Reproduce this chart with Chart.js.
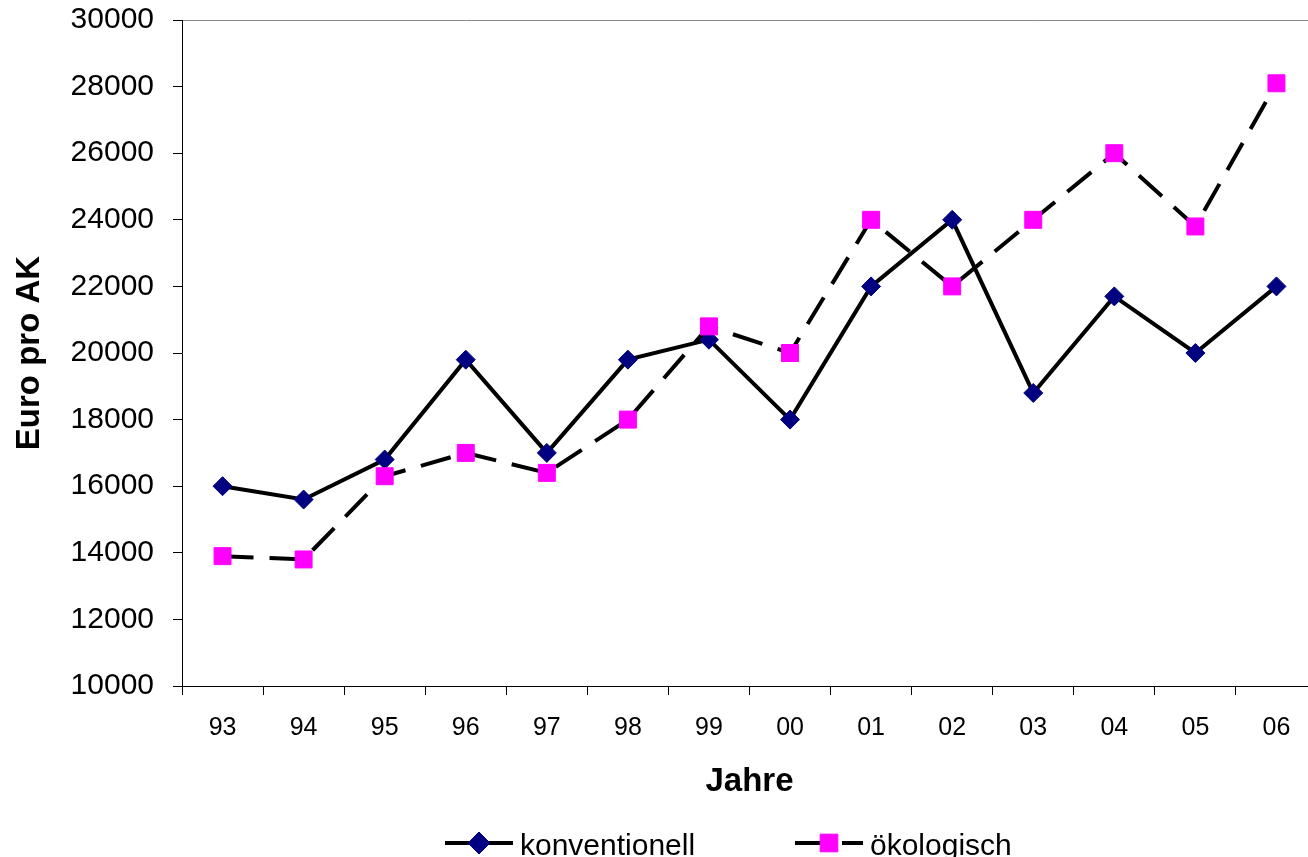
<!DOCTYPE html>
<html>
<head>
<meta charset="utf-8">
<script src="https://cdn.jsdelivr.net/npm/chart.js@4/dist/chart.umd.min.js"></script>
<style>
  html, body { margin: 0; padding: 0; background: #fff; overflow: hidden; }
  #wrap { width: 1330px; height: 857px; }
</style>
</head>
<body>
<div id="wrap"><canvas id="c" width="1330" height="857"></canvas></div>
<script>
// Einkommen je Arbeitskraft, konventionelle vs. ökologische Betriebe
const jahre = ['93', '94', '95', '96', '97', '98', '99', '00', '01', '02', '03', '04', '05', '06'];
const konventionell = [16000, 15600, 16800, 19800, 17000, 19800, 20400, 18000, 22000, 24000, 18800, 21700, 20000, 22000];
const oekologisch   = [13900, 13800, 16300, 17000, 16400, 18000, 20800, 20000, 24000, 22000, 24000, 26000, 23800, 28100];
const yTicks = [10000, 12000, 14000, 16000, 18000, 20000, 22000, 24000, 26000, 28000, 30000];

const FONT = '"Liberation Sans", Arial, Helvetica, sans-serif';
const DASH = [31, 16];

// Legend below the plot: line sample with the marker in the middle, then the label
const lineLegend = {
  id: 'lineLegend',
  afterDraw(chart) {
    const ctx = chart.ctx;
    const items = [
      { ds: chart.data.datasets[0], x: 445, r: 11 },
      { ds: chart.data.datasets[1], x: 795, r: 12.5 }
    ];
    const y = 843;
    const len = 68;
    ctx.save();
    items.forEach(({ ds, x, r }) => {
      ctx.beginPath();
      ctx.lineWidth = ds.borderWidth;
      ctx.strokeStyle = ds.borderColor;
      ctx.setLineDash(ds.borderDash || []);
      ctx.lineCap = 'butt';
      ctx.moveTo(x, y);
      ctx.lineTo(x + len, y);
      ctx.stroke();
      ctx.setLineDash([]);
      ctx.fillStyle = ds.pointBackgroundColor;
      ctx.strokeStyle = ds.pointBorderColor;
      ctx.lineWidth = ds.pointBorderWidth;
      Chart.helpers.drawPoint(ctx, {
        pointStyle: ds.pointStyle,
        radius: r,
        borderWidth: ds.pointBorderWidth,
        rotation: 0
      }, x + len / 2, y);
      ctx.fillStyle = '#000';
      ctx.font = '30px ' + FONT;
      ctx.textAlign = 'left';
      ctx.textBaseline = 'alphabetic';
      ctx.fillText(ds.label, x + len + 7, 855);
    });
    ctx.restore();
  }
};

new Chart(document.getElementById('c'), {
  type: 'line',
  data: {
    labels: jahre,
    datasets: [
      {
        label: 'konventionell',
        data: konventionell,
        borderColor: '#000000',
        borderWidth: 4,
        pointStyle: 'rectRot',
        pointRadius: 9.5,
        pointHoverRadius: 9.5,
        pointBackgroundColor: '#000080',
        pointBorderColor: '#000080',
        pointBorderWidth: 1,
        tension: 0,
        order: 2
      },
      {
        label: 'ökologisch',
        data: oekologisch,
        borderColor: '#000000',
        borderWidth: 4,
        borderDash: DASH,
        pointStyle: 'rect',
        pointRadius: 12,
        pointHoverRadius: 12,
        pointBackgroundColor: '#FF00FF',
        pointBorderColor: '#FF00FF',
        pointBorderWidth: 1,
        tension: 0,
        order: 1
      }
    ]
  },
  options: {
    responsive: false,
    animation: false,
    events: [],
    layout: { padding: { left: 0, right: 12, top: 20, bottom: 55 } },
    plugins: {
      legend: { display: false },
      tooltip: { enabled: false },
      title: { display: false }
    },
    scales: {
      x: {
        offset: true,
        grid: {
          offset: true,
          drawOnChartArea: false,
          drawTicks: true,
          tickLength: 9,
          tickColor: '#000',
          tickWidth: 1
        },
        border: { display: true, color: '#000', width: 1 },
        ticks: {
          color: '#000',
          font: { family: FONT, size: 25 },
          padding: 18,
          maxRotation: 0,
          autoSkip: false
        },
        title: {
          display: true,
          text: 'Jahre',
          color: '#000',
          font: { family: FONT, size: 33, weight: 'bold' },
          padding: { top: 0, bottom: 0 }
        },
        afterFit(scale) {
          scale.height = 116;
          scale.paddingLeft = 0;
          scale.paddingRight = 0;
        }
      },
      y: {
        min: 10000,
        max: 30000,
        afterBuildTicks(scale) { scale.ticks = yTicks.map(v => ({ value: v })); },
        grid: {
          color: (c) => (c.tick && c.tick.value === 30000 ? '#888888' : 'rgba(0,0,0,0)'),
          lineWidth: 1,
          drawTicks: true,
          tickLength: 9,
          tickColor: '#000',
          tickWidth: 1
        },
        border: { display: true, color: '#000', width: 1 },
        ticks: {
          color: '#000',
          font: { family: FONT, size: 30 },
          padding: 19,
          callback: (v) => String(v)
        },
        title: {
          display: true,
          text: 'Euro pro AK',
          color: '#000',
          font: { family: FONT, size: 33, weight: 'bold' },
          padding: { top: 10, bottom: 0 }
        },
        afterFit(scale) {
          scale.width = 182;
          scale.paddingTop = 0;
          scale.paddingBottom = 0;
        }
      }
    }
  },
  plugins: [lineLegend]
});
</script>
</body>
</html>
